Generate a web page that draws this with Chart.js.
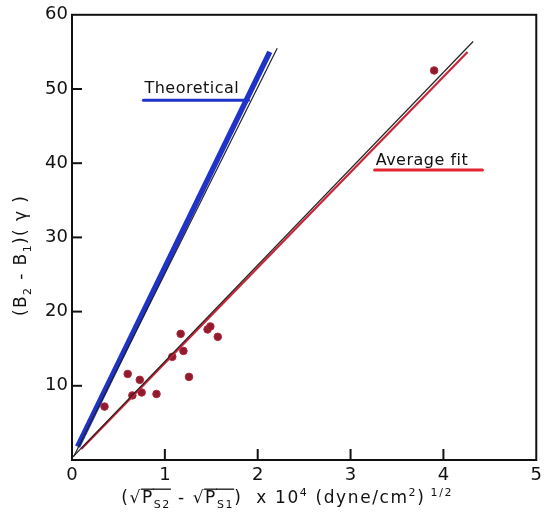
<!DOCTYPE html>
<html>
<head>
<meta charset="utf-8">
<script src="https://cdn.jsdelivr.net/npm/chart.js@4.4.1/dist/chart.umd.min.js"></script>
<style>
  html, body { margin: 0; padding: 0; background: #fff; }
  #wrap { width: 547px; height: 518px; position: relative; }
</style>
</head>
<body>
<div id="wrap"><canvas id="chart"></canvas></div>
<script>
// measured points
const measuredX = [0.35, 0.60, 0.73, 0.65, 0.75, 0.91, 1.08, 1.17, 1.20, 1.26, 1.46, 1.49, 1.57, 3.90];
const measuredY = [7.2, 11.6, 10.8, 8.7, 9.1, 8.9, 13.9, 17.0, 14.7, 11.2, 17.6, 18.0, 16.6, 52.5];

// theoretical line (blue) and its pencil guide
const theoryX = [0.06, 2.13];
const theoryY = [1.8, 55.0];
const theoryGuideX = [0.02, 2.21];
const theoryGuideY = [0.5, 55.5];

// average fit line (red) and its pencil guide
const fitX = [0.10, 4.26];
const fitY = [1.5, 55.0];
const fitGuideX = [0.0, 4.32];
const fitGuideY = [0.3, 56.4];

const xTicks = [0, 1, 2, 3, 4, 5];
const yTicks = [0, 10, 20, 30, 40, 50, 60];

// axis titles as pieces: [text, "sub" | "sup" | "", overline?]
const xTitle = [
  ["(", ""], ["√", ""], ["P", "", 1], ["S2", "sub", 1], [" - ", ""],
  ["√", ""], ["P", "", 1], ["S1", "sub", 1], [")  x 10", ""], ["4", "sup"],
  [" (dyne/cm", ""], ["2", "sup"], [")", ""], [" 1/2", "sup"],
];
const yTitle = [["(B", ""], ["2", "sub"], [" - B", ""], ["1", "sub"], [")( γ )", ""]];

const toPts = (xs, ys) => xs.map((x, i) => ({ x, y: ys[i] }));

const FONT = "'DejaVu Sans', sans-serif";

function drawRich(ctx, parts, cx, cy, size, spacing) {
  const small = Math.round(size * 0.62);
  ctx.letterSpacing = spacing + "px";
  const widths = parts.map((p) => {
    ctx.font = (p[1] ? small : size) + "px " + FONT;
    return ctx.measureText(p[0]).width;
  });
  const total = widths.reduce((a, b) => a + b, 0);
  let x = cx - total / 2;
  ctx.textAlign = "left";
  ctx.textBaseline = "alphabetic";
  const base = cy + size * 0.36;
  parts.forEach((p, i) => {
    ctx.font = (p[1] ? small : size) + "px " + FONT;
    const dy = p[1] === "sub" ? size * 0.28 : p[1] === "sup" ? -size * 0.42 : 0;
    ctx.fillText(p[0], x, base + dy);
    if (p[2]) {
      ctx.lineWidth = 1.3;
      ctx.beginPath();
      ctx.moveTo(x - 1, base - size * 0.82);
      ctx.lineTo(x + widths[i], base - size * 0.82);
      ctx.stroke();
    }
    x += widths[i];
  });
}

const framePlugin = {
  id: "frame",
  beforeDatasetsDraw(chart) {
    const { ctx, chartArea: a, scales } = chart;
    ctx.save();
    ctx.strokeStyle = "#111";
    ctx.lineWidth = 2;
    ctx.strokeRect(a.left, a.top, a.right - a.left, a.bottom - a.top);
    // inward ticks
    xTicks.slice(1, -1).forEach((v) => {
      const px = scales.x.getPixelForValue(v);
      ctx.beginPath();
      ctx.moveTo(px, a.bottom);
      ctx.lineTo(px, a.bottom - 11);
      ctx.stroke();
    });
    yTicks.slice(1, -1).forEach((v) => {
      const py = scales.y.getPixelForValue(v);
      ctx.beginPath();
      ctx.moveTo(a.left, py);
      ctx.lineTo(a.left + 10, py);
      ctx.stroke();
    });
    ctx.restore();
  },
  afterDraw(chart) {
    const { ctx, chartArea: a } = chart;
    ctx.save();
    ctx.fillStyle = "#111";
    ctx.strokeStyle = "#111";
    drawRich(ctx, xTitle, a.left + (a.right - a.left) / 2 - 17, a.bottom + 37, 17, 1.6);
    ctx.translate(20, a.top + (a.bottom - a.top) / 2 + 18);
    ctx.rotate(-Math.PI / 2);
    drawRich(ctx, yTitle, 0, 0, 17, 1.4);
    ctx.restore();
  },
};

// hand-written labels on the plot
const notes = [
  { text: "Theoretical", x: 0.78, y: 49.4, lineTo: 1.9, lineY: 48.5, color: "#1f33c9" },
  { text: "Average fit", x: 3.27, y: 39.8, lineTo: 4.42, lineY: 39.1, color: "#e0252f" },
];

const notesPlugin = {
  id: "notes",
  afterDatasetsDraw(chart) {
    const { ctx, scales } = chart;
    ctx.save();
    ctx.font = "16px " + FONT;
    ctx.letterSpacing = "0.5px";
    ctx.textBaseline = "alphabetic";
    ctx.textAlign = "left";
    notes.forEach((n) => {
      const x0 = scales.x.getPixelForValue(n.x);
      ctx.fillStyle = "#111";
      ctx.fillText(n.text, x0, scales.y.getPixelForValue(n.y));
      ctx.strokeStyle = n.color;
      ctx.lineWidth = 3;
      ctx.lineCap = "round";
      ctx.beginPath();
      ctx.moveTo(x0 - 1, scales.y.getPixelForValue(n.lineY));
      ctx.lineTo(scales.x.getPixelForValue(n.lineTo), scales.y.getPixelForValue(n.lineY));
      ctx.stroke();
    });
    ctx.restore();
  },
};

new Chart(document.getElementById("chart"), {
  type: "scatter",
  data: {
    datasets: [
      {
        data: toPts(theoryGuideX, theoryGuideY),
        showLine: true,
        borderColor: "#222",
        borderWidth: 1.2,
        pointRadius: 0,
      },
      {
        data: toPts(theoryX, theoryY),
        showLine: true,
        borderColor: "#1f33c9",
        borderWidth: 5.5,
        pointRadius: 0,
      },
      {
        data: toPts(fitGuideX, fitGuideY),
        showLine: true,
        borderColor: "#222",
        borderWidth: 1.2,
        pointRadius: 0,
      },
      {
        data: toPts(fitX, fitY),
        showLine: true,
        borderColor: "#c9263a",
        borderWidth: 2.2,
        pointRadius: 0,
      },
      {
        data: toPts(measuredX, measuredY),
        showLine: false,
        pointRadius: 3.8,
        pointBackgroundColor: "#8e1c2e",
        pointBorderColor: "#b02a3a",
        pointBorderWidth: 1,
      },
    ],
  },
  options: {
    responsive: true,
    maintainAspectRatio: false,
    devicePixelRatio: 1,
    animation: false,
    layout: { padding: { top: 12, right: 7, left: 0, bottom: 0 } },
    plugins: {
      legend: { display: false },
      tooltip: { enabled: false },
    },
    scales: {
      x: {
        type: "linear",
        min: 0,
        max: 5,
        afterBuildTicks: (s) => { s.ticks = xTicks.map((v) => ({ value: v })); },
        afterFit: (s) => { s.height = 58; },
        ticks: { color: "#111", font: { family: FONT, size: 18 }, padding: 5 },
        grid: { display: false, drawTicks: false },
        border: { display: false },
      },
      y: {
        type: "linear",
        min: 0,
        max: 60,
        afterBuildTicks: (s) => { s.ticks = yTicks.slice(1).map((v) => ({ value: v })); },
        afterFit: (s) => { s.width = 72; },
        ticks: { color: "#111", font: { family: FONT, size: 18 }, padding: 4 },
        grid: { display: false, drawTicks: false },
        border: { display: false },
      },
    },
  },
  plugins: [framePlugin, notesPlugin],
});
</script>
</body>
</html>
